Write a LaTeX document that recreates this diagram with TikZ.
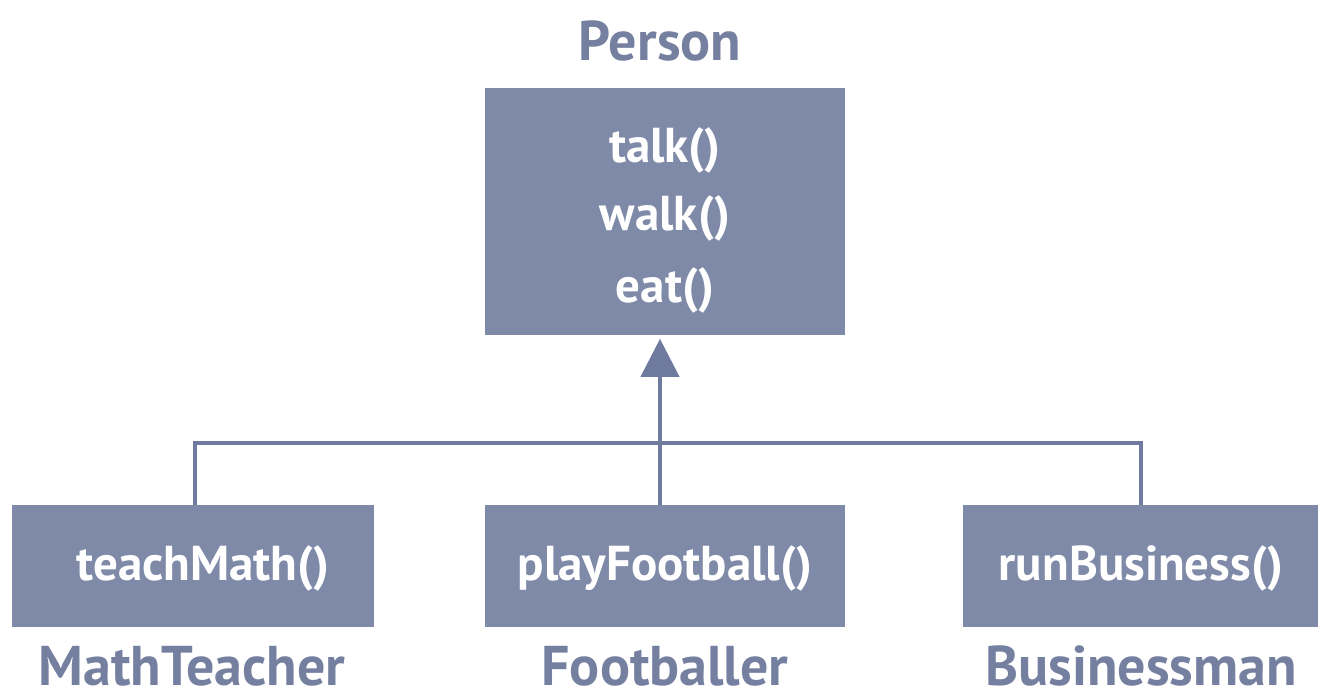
\documentclass[tikz,border=0pt]{standalone}
\usepackage{fontspec}
\setmainfont{PT Sans}
\usetikzlibrary{arrows.meta}
\definecolor{boxfill}{HTML}{7F8AA8}
\definecolor{linec}{HTML}{6E7A9E}
\definecolor{labelc}{HTML}{7580A0}
\tikzset{
  cls/.style={fill=boxfill, draw=none, anchor=north west, inner sep=0pt},
  meth/.style={text=white, font=\fontsize{24.5}{28}\selectfont\bfseries},
  lbl/.style={text=labelc, font=\fontsize{28}{32}\selectfont\bfseries, anchor=base, inner sep=0pt},
  conn/.style={draw=linec, line width=2pt},
}
\begin{document}
\begin{tikzpicture}[x=0.5pt,y=-0.5pt]
\useasboundingbox (0,0) rectangle (1318,698);
% class boxes
\node[cls, minimum width=180pt, minimum height=123.5pt] (person) at (485,88) {};
\node[cls, minimum width=181pt, minimum height=61pt] (math) at (12,505) {};
\node[cls, minimum width=180pt, minimum height=61pt] (foot) at (485,505) {};
\node[cls, minimum width=177.5pt, minimum height=61pt] (bus) at (963,505) {};
% methods
\node[meth] (m1) at (665,150) {talk()};
\node[meth] (m2) at (665,218) {walk()};
\node[meth] (m3) at (665,290) {eat()};
\node[meth] (m4) at (203,568) {teachMath()};
\node[meth] (m5) at (665,568) {playFootball()};
\node[meth] (m6) at (1141,568) {runBusiness()};
% labels
\node[lbl] (lp) at (660,60) {Person};
\node[lbl] (lm) at (192,685) {MathTeacher};
\node[lbl] (lf) at (665,685) {Footballer};
\node[lbl] (lb) at (1141,685) {Businessman};
% connectors
\coordinate (jl) at (195,443);
\coordinate (jr) at (1141,443);
\coordinate (jc) at (660,443);
\draw[conn] (math.north -| jl) -- (jl) -- (jr) -- (bus.north -| jr);
\draw[conn, -{Triangle[length=19pt,width=19pt]}] (foot.north -| jc) -- ([yshift=-1.5pt]person.south -| jc);
\end{tikzpicture}
\end{document}
